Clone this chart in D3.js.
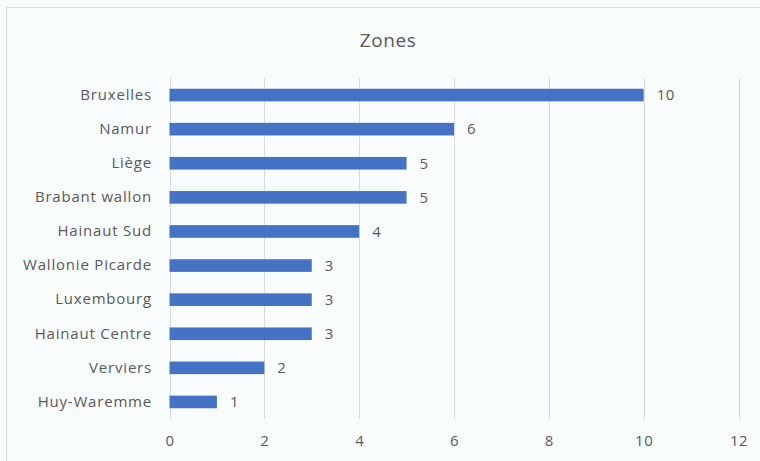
<!DOCTYPE html>
<html><head><meta charset="utf-8">
<script src="https://cdn.jsdelivr.net/npm/d3@7"></script>
<style>
html,body{margin:0;padding:0;background:#fff;}
svg{display:block;}
</style></head>
<body>
<script>
const categories = ["Bruxelles","Namur","Liège","Brabant wallon","Hainaut Sud","Wallonie Picarde","Luxembourg","Hainaut Centre","Verviers","Huy-Waremme"];
const values = [10,6,5,5,4,3,3,3,2,1];
const xTicks = [0,2,4,6,8,10,12];
const title = "Zones";

const W = 760, H = 461;
const font = "'Open Sans', 'Noto Sans', sans-serif";
const txt = "#595959";

const svg = d3.select("body").append("svg").attr("width", W).attr("height", H);
svg.append("rect").attr("width", W).attr("height", H).attr("fill", "#f9fcfd");
svg.append("path").attr("d", `M6.5,${H} V7.5 H${W}`).attr("fill","none").attr("stroke","#d9d9d9").attr("stroke-width",1);

const x = d3.scaleLinear().domain([0, 12]).range([169.5, 738.5]);
const y = d3.scaleBand().domain(categories).range([78, 419]).paddingInner(0.63).paddingOuter(0.315);

svg.append("text").attr("x", 388).attr("y", 47).attr("text-anchor","middle")
  .attr("font-family", font).attr("font-size", 19).attr("letter-spacing", 0.6).attr("fill", txt).text(title);

// gridlines
svg.append("g").selectAll("line").data(xTicks).join("line")
  .attr("x1", d => Math.round(x(d)) + 0.5).attr("x2", d => Math.round(x(d)) + 0.5)
  .attr("y1", 78).attr("y2", 419)
  .attr("stroke", "#d9d9d9").attr("stroke-width", 1);

// x axis labels
const xa = svg.append("g").attr("transform", "translate(0,432)")
  .call(d3.axisBottom(x).tickValues(xTicks).tickSize(0).tickPadding(3));
xa.select(".domain").remove();
xa.selectAll("text").attr("font-family", font).attr("font-size", 15).attr("letter-spacing", 0.5).attr("fill", txt);

// y axis labels
const ya = svg.append("g").attr("transform", "translate(169,0)")
  .call(d3.axisLeft(y).tickSize(0).tickPadding(17));
ya.select(".domain").remove();
ya.selectAll("text").attr("font-family", font).attr("font-size", 15).attr("letter-spacing", 0.8).attr("fill", txt);

// bars
svg.append("g").selectAll("rect").data(values).join("rect")
  .attr("x", x(0)).attr("y", (d,i) => y(categories[i]))
  .attr("width", d => x(d) - x(0)).attr("height", y.bandwidth())
  .attr("fill", "#4472c4");

// value labels
svg.append("g").selectAll("text").data(values).join("text")
  .attr("x", d => x(d) + 13).attr("y", (d,i) => y(categories[i]) + y.bandwidth()/2)
  .attr("dy", "0.35em")
  .attr("font-family", font).attr("font-size", 15).attr("letter-spacing", 0.5).attr("fill", txt)
  .text(d => d);
</script>
</body></html>
